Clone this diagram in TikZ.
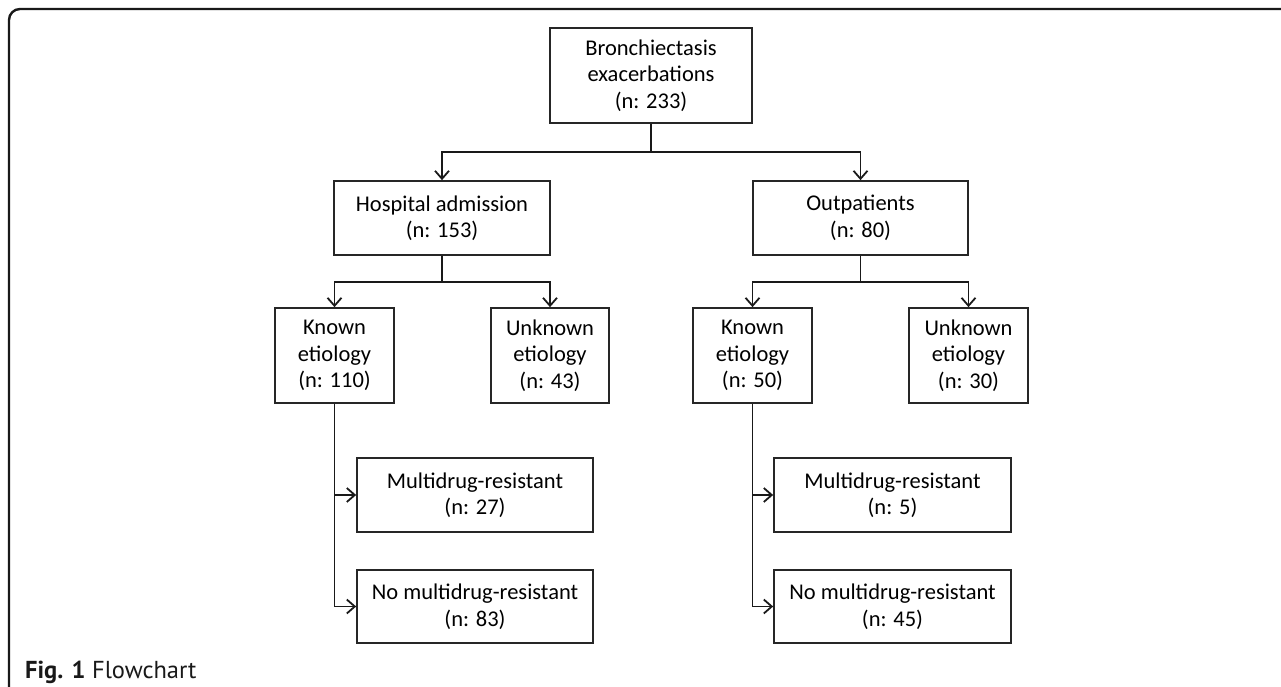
\documentclass[tikz,border=0pt]{standalone}
\usepackage{fontspec}
\setmainfont{Carlito}
\newfontfamily\capfont{PT Sans}
\usetikzlibrary{arrows.meta}
\begin{document}
\begin{tikzpicture}[x=1pt,y=-1pt,
  box/.style={draw=black!85, line width=1.7pt, inner sep=0pt, align=center,
    font=\fontsize{22.5}{26.5}\selectfont, text=black},
  conn/.style={draw=black!90, line width=1.8pt},
  arr/.style={conn, -{Straight Barb[length=8pt,width=14pt,line width=1.8pt]}},
  frame/.style={draw=black!90, line width=2.4pt, rounded corners=11pt}]
\useasboundingbox (0,0) rectangle (1281,687);
\draw[frame] (9,690) -- (9,9) -- (1284,9);

\node[box, minimum width=202pt, minimum height=95pt] (top) at (651,75.5)
  {Bronchiectasis\\exacerbations\\(n: 233)};
\node[box, minimum width=216pt, minimum height=74pt] (hosp) at (442,218)
  {Hospital admission\\(n: 153)};
\node[box, minimum width=215pt, minimum height=74pt] (out) at (860.5,218)
  {Outpatients\\(n: 80)};
\node[box, minimum width=119pt, minimum height=95pt] (k1) at (334.5,355.5)
  {Known\\etiology\\(n: 110)};
\node[box, minimum width=118pt, minimum height=95pt] (u1) at (550,355.5)
  {Unknown\\etiology\\(n: 43)};
\node[box, minimum width=119pt, minimum height=95pt] (k2) at (752.5,355.5)
  {Known\\etiology\\(n: 50)};
\node[box, minimum width=119pt, minimum height=95pt] (u2) at (968.5,355.5)
  {Unknown\\etiology\\(n: 30)};
\node[box, minimum width=236pt, minimum height=74pt] (m1) at (475,495)
  {Multidrug-resistant\\(n: 27)};
\node[box, minimum width=236pt, minimum height=73pt] (n1) at (475,606.5)
  {No multidrug-resistant\\(n: 83)};
\node[box, minimum width=237pt, minimum height=74pt] (m2) at (892.5,495)
  {Multidrug-resistant\\(n: 5)};
\node[box, minimum width=237pt, minimum height=73pt] (n2) at (892.5,606.5)
  {No multidrug-resistant\\(n: 45)};

\coordinate (j0) at (651,152);
\coordinate (j1) at (442,282);
\coordinate (j2) at (860.5,282);

\draw[conn] (top.south) -- (j0);
\draw[arr] (j0) -| (hosp.north);
\draw[arr] (j0) -| (out.north);
\draw[conn] (hosp.south) -- (j1);
\draw[arr] (j1) -| (k1.north);
\draw[arr] (j1) -| (u1.north);
\draw[conn] (out.south) -- (j2);
\draw[arr] (j2) -| (k2.north);
\draw[arr] (j2) -| (u2.north);
\draw[arr] (k1.south) |- (m1.west);
\draw[arr] (k1.south) |- (n1.west);
\draw[arr] (k2.south) |- (m2.west);
\draw[arr] (k2.south) |- (n2.west);

\node[anchor=base west, inner sep=0pt, font=\capfont\fontsize{24.5}{28}\selectfont, text=black!90] (cap) at (25,678)
  {\textbf{Fig. 1} Flowchart};
\end{tikzpicture}
\end{document}
